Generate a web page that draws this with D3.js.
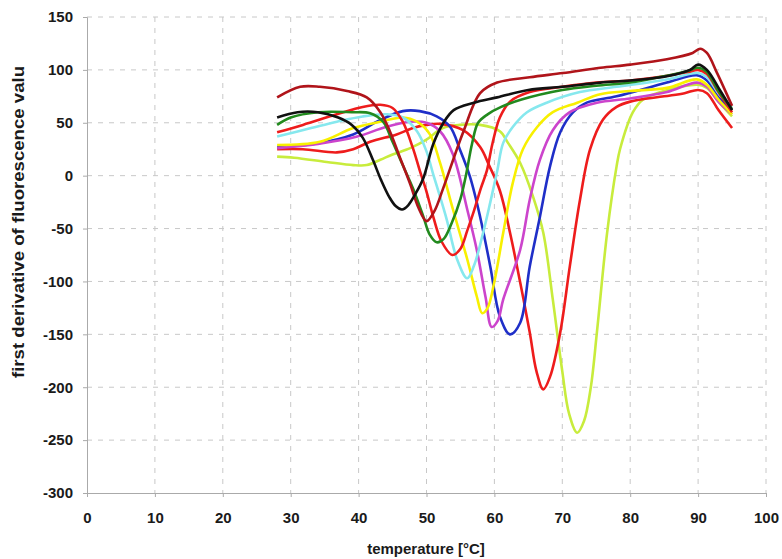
<!DOCTYPE html>
<html>
<head>
<meta charset="utf-8">
<script src="https://cdn.jsdelivr.net/npm/d3@7"></script>
<style>
  body { margin: 0; background: #fff; }
  text { font-family: "Liberation Sans", Arial, sans-serif; font-weight: bold; fill: #1a1a1a; }
</style>
</head>
<body>
<svg id="chart" width="782" height="559"></svg>
<script>
// tick labels
const xTicks = [0, 10, 20, 30, 40, 50, 60, 70, 80, 90, 100];
const yTicks = [150, 100, 50, 0, -50, -100, -150, -200, -250, -300];

// series: temperature (°C) and first derivative
const tMaroon = [28, 31.4, 34.3, 38.3, 41.2, 43.2, 44.6, 46.1, 47.6, 48.8, 50, 51.2, 52.4, 55.4, 57.9, 60.4, 65.2, 70.1, 75.6, 80, 85.4, 89.2, 90.3, 91.3, 92.8, 95];
const vMaroon = [74, 84, 84, 80, 74, 60, 42, 17, -8, -30, -43, -33, -13, 41, 78, 88, 93, 97, 102, 105, 110, 116, 120, 116, 97, 66];

const tBlack = [28, 31, 34, 37, 39, 40.6, 42.1, 43.3, 44.5, 45.5, 46.4, 47.3, 48.3, 49.5, 51, 52.5, 54, 57, 60.4, 65, 70, 75.6, 80, 85.4, 88.8, 90, 91.3, 93.2, 95];
const vBlack = [55, 60, 60, 55, 48, 36, 15, -4, -20, -29, -32, -28, -18, -3, 30, 50, 62, 69, 74, 81, 84, 88, 90, 94, 100, 105, 100, 81, 62];

const tGreen = [28, 30, 34, 39, 41.7, 43.6, 45, 46.5, 48, 49.5, 50.5, 51.5, 52.5, 53.7, 55, 55.8, 56.7, 57.6, 59, 61, 64, 70, 75, 80, 85, 88.5, 90, 91.3, 93, 95];
const vGreen = [48, 55, 60, 60, 59, 51, 32, 10, -12, -38, -56, -63, -60, -45, -22, 0, 30, 50, 58, 65, 72, 81, 85, 88, 94, 99, 102, 98, 80, 63];

const tRed1 = [28, 31.8, 36.8, 40.6, 43.2, 45, 46.5, 48, 49, 50, 51, 52.2, 53.8, 55, 56, 57, 58, 58.9, 59.7, 60.8, 62.3, 65.2, 70, 75, 80, 85, 88.5, 90, 91.3, 93, 95];
const vRed1 = [41, 48, 58, 65, 67, 64, 51, 26, 5, -15, -39, -62, -75, -69, -52, -33, -12, 5, 30, 55, 70, 79, 84, 88, 90, 94, 98, 100, 96, 79, 60];

const tCyan = [28, 33, 36.8, 40.6, 44.2, 46.5, 48.6, 50, 51, 52, 53, 54.5, 56, 57, 58.3, 59.4, 60.4, 61.3, 62.7, 64.8, 67.7, 72.6, 78, 85.4, 90, 91.3, 93, 95];
const vCyan = [37, 45, 51, 56, 58, 55, 42, 23, 1, -20, -42, -79, -97, -85, -55, -25, 4, 31, 46, 60, 69, 79, 84, 91, 97, 93, 78, 65];

const tYellow = [28, 34.3, 39.2, 43.2, 46.5, 48.6, 50.5, 52, 53.9, 56, 57.4, 58.2, 59, 60, 61.3, 62.7, 64.2, 66.3, 68.6, 72.2, 75.6, 80, 85.4, 89.8, 91.3, 93, 95];
const vYellow = [29, 32, 45, 51, 55, 51, 39, 12, -32, -79, -114, -130, -125, -100, -54, -7, 25, 46, 60, 69, 77, 80, 83, 91, 86, 72, 58];

const tMagenta = [28, 34, 39.8, 44, 47.6, 50, 52, 53.9, 56, 57.4, 58.7, 59.6, 60.5, 61.3, 63.8, 65.2, 66.7, 68.6, 71.1, 75.1, 80, 85.4, 89.8, 91.3, 93, 95];
const vMagenta = [26, 30, 37, 46, 51, 50, 42, 20, -32, -70, -115, -143, -137, -117, -70, -23, 15, 43, 60, 69, 73, 79, 88, 84, 70, 58];

const tBlue = [28, 34.3, 39.2, 43, 46.5, 49, 51.5, 53.5, 54.9, 56.4, 57.9, 59.4, 60.8, 62.3, 63.8, 65.2, 66.7, 68.2, 69.7, 71.6, 73.6, 78, 85.4, 89.8, 91.3, 93, 95];
const vBlue = [27, 31, 39, 52, 61, 61, 56, 46, 25, -1, -39, -86, -133, -150, -139, -86, -39, 9, 41, 60, 69, 75, 88, 95, 90, 74, 62];

const tRed2 = [28, 31.8, 36.8, 39.2, 41.7, 45.6, 48, 50, 52, 55.4, 57.9, 59.2, 60.8, 62.3, 63.8, 65.2, 66.2, 67.2, 68.2, 69.7, 71.1, 72.6, 74.1, 76, 78, 80, 85, 88, 90, 91.3, 93, 95];
const vRed2 = [25, 25, 22, 25, 32, 39, 45, 48, 49, 43, 27, 10, -14, -54, -101, -148, -185, -202, -190, -148, -86, -23, 25, 53, 65, 70, 75, 78, 81, 78, 62, 45];

const tYGreen = [28, 30.5, 35.3, 39.2, 41.2, 43.2, 45, 47.6, 50, 52.4, 54.9, 57.9, 60.8, 62, 63.8, 65.7, 67.2, 68.6, 70, 71, 72.2, 73.2, 74.2, 75.1, 76.6, 78, 78.5, 80.4, 81.9, 85, 90, 91.3, 93, 95];
const vYGreen = [18, 17, 13, 10, 10, 15, 20, 26, 34, 45, 48, 48, 42, 31, 12, -20, -54, -117, -185, -225, -243, -232, -200, -148, -54, 9, 25, 60, 72, 80, 86, 83, 70, 56];

const series = [
  { t: tYGreen, v: vYGreen, color: "#c8ec3c" },
  { t: tRed2, v: vRed2, color: "#ee1c1c" },
  { t: tBlue, v: vBlue, color: "#1f2fc8" },
  { t: tMagenta, v: vMagenta, color: "#cc44cc" },
  { t: tYellow, v: vYellow, color: "#f8f000" },
  { t: tCyan, v: vCyan, color: "#86e8ee" },
  { t: tRed1, v: vRed1, color: "#ee1c1c" },
  { t: tGreen, v: vGreen, color: "#228a1e" },
  { t: tMaroon, v: vMaroon, color: "#b0141a" },
  { t: tBlack, v: vBlack, color: "#111111" }
];

const svg = d3.select("#chart");

const x = d3.scaleLinear().domain([0, 100]).range([87, 766]);
const y = d3.scaleLinear().domain([-300, 150]).range([493, 17]);

// dashed grid
svg.append("g")
    .selectAll("line")
    .data(xTicks.slice(1))
    .enter().append("line")
    .attr("x1", d => x(d)).attr("x2", d => x(d))
    .attr("y1", y(150)).attr("y2", y(-300))
    .attr("stroke", "#c8c8c8")
    .attr("stroke-dasharray", "5,6");

svg.append("g")
    .selectAll("line")
    .data(yTicks.slice(0, -1))
    .enter().append("line")
    .attr("x1", x(0)).attr("x2", x(100))
    .attr("y1", d => y(d)).attr("y2", d => y(d))
    .attr("stroke", "#c8c8c8")
    .attr("stroke-dasharray", "5,6");

// axes (plain hyphen for negatives, like the original)
const fmt = d => String(d);

const xAxis = svg.append("g")
    .attr("transform", "translate(0," + y(-300) + ")")
    .call(d3.axisBottom(x).tickValues(xTicks).tickFormat(fmt).tickSize(4).tickPadding(15));

const yAxis = svg.append("g")
    .attr("transform", "translate(" + x(0) + ",0)")
    .call(d3.axisLeft(y).tickValues(yTicks).tickFormat(fmt).tickSize(4).tickPadding(10));

[xAxis, yAxis].forEach(function(a) {
    a.select(".domain").attr("stroke", "#aaa");
    a.selectAll(".tick line").attr("stroke", "#aaa");
    a.selectAll("text")
        .style("font-family", "'Liberation Sans', Arial, sans-serif")
        .style("font-weight", "bold")
        .style("font-size", "15px")
        .attr("fill", "#1a1a1a");
});

// curves
const line = d3.line()
    .x(d => x(d[0]))
    .y(d => y(d[1]))
    .curve(d3.curveCatmullRom.alpha(0.5));

svg.append("g")
    .selectAll("path")
    .data(series)
    .enter().append("path")
    .attr("d", s => line(s.t.map((t, i) => [t, s.v[i]])))
    .attr("fill", "none")
    .attr("stroke", s => s.color)
    .attr("stroke-width", 2.6)
    .attr("stroke-linejoin", "round");

// axis titles
svg.append("text")
    .attr("x", 426)
    .attr("y", 554)
    .attr("text-anchor", "middle")
    .style("font-size", "15px")
    .text("temperature [°C]");

svg.append("text")
    .attr("transform", "translate(24,222) rotate(-90)")
    .attr("text-anchor", "middle")
    .attr("textLength", 312)
    .attr("lengthAdjust", "spacingAndGlyphs")
    .style("font-size", "16px")
    .text("first derivative of fluorescence valu");
</script>
</body>
</html>
